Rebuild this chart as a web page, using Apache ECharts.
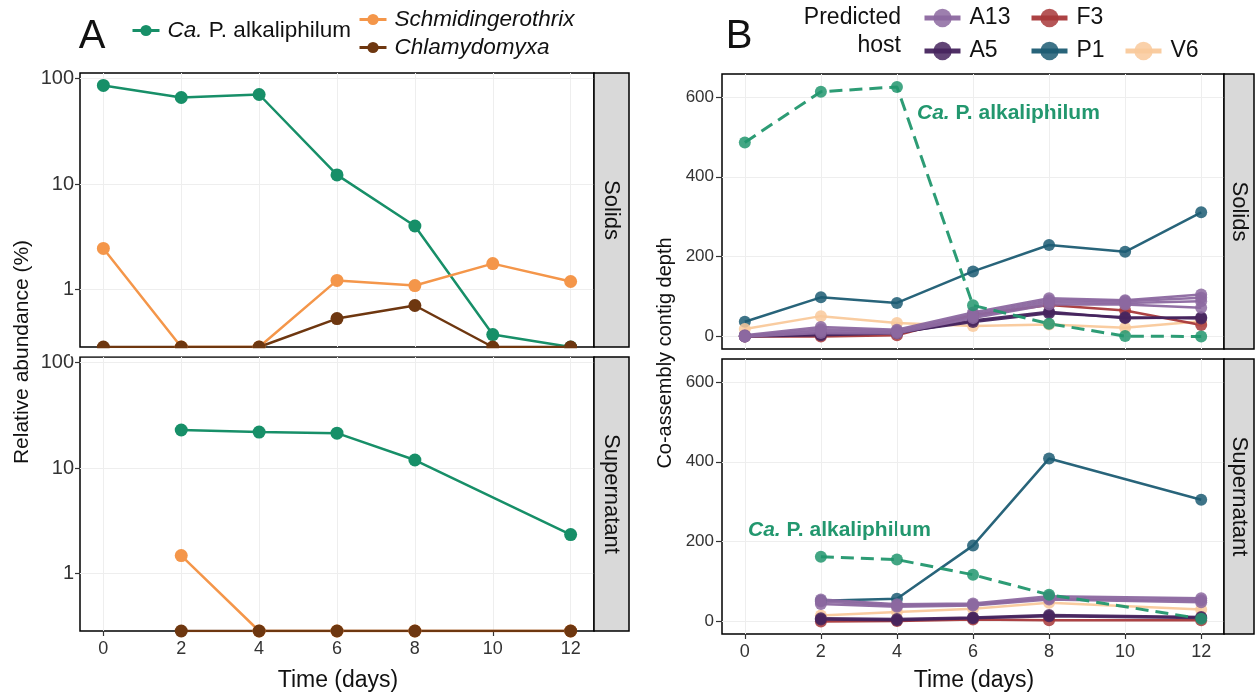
<!DOCTYPE html>
<html><head><meta charset="utf-8">
<script src="https://cdn.jsdelivr.net/npm/echarts@6/dist/echarts.min.js"></script>
<style>html,body{margin:0;padding:0;background:#fff}#c{width:1255px;height:695px}</style>
</head><body><div id="c"></div>
<script>
// ---------- data ----------
const days = [0, 2, 4, 6, 8, 10, 12];
const xTicks = [0, 2, 4, 6, 8, 10, 12];
const yTicksA = [1, 10, 100];
const yTicksB = [0, 200, 400, 600];

// Panel A: relative abundance (%), null = not sampled, 0 = not detected
const caP_solids    = [85.9, 66, 70.5, 12.2, 4.0, 0.374, 0];
const schmid_solids = [2.45, 0, 0, 1.22, 1.09, 1.76, 1.19];
const chlamy_solids = [0, 0, 0, 0.53, 0.705, 0, 0];
const caP_super     = [null, 22.9, 21.9, 21.4, 11.9, null, 2.34];
const schmid_super  = [null, 1.48, 0, 0, 0, null, 0];
const chlamy_super  = [null, 0, 0, 0, 0, null, 0];

// Panel B: co-assembly contig depth
const bCaP_solids   = [486, 613, 625, 78, 32, 1, 0];
const bP1_solids    = [37, 98, 84, 163, 229, 212, 311];
const bV6_solids    = [19, 51, 34, 26, 30, 22, 38];
const bF3_solids    = [0, 0, 3, 54, 79, 65, 29];
const bA5a_solids   = [0, 3, 8, 40, 62, 46, 48];
const bA5b_solids   = [2, 6, 10, 36, 58, 48, 45];
const bA13a_solids  = [3, 24, 17, 60, 96, 91, 105];
const bA13b_solids  = [1, 18, 14, 55, 91, 88, 97];
const bA13c_solids  = [0, 13, 11, 50, 86, 84, 88];
const bA13d_solids  = [0, 9, 8, 46, 80, 80, 72];

const bCaP_super    = [null, 162, 155, 117, 67, null, 7];
const bP1_super     = [null, 52, 57, 190, 408, null, 305];
const bV6_super     = [null, 15, 24, 32, 47, null, 30];
const bF3_super     = [null, 0, 1, 5, 3, null, 3];
const bA5a_super    = [null, 5, 3, 8, 13, null, 9];
const bA5b_super    = [null, 8, 6, 10, 16, null, 11];
const bA13a_super   = [null, 55, 43, 45, 63, null, 58];
const bA13b_super   = [null, 50, 40, 42, 58, null, 53];
const bA13c_super   = [null, 44, 37, 40, 55, null, 48];

// ---------- helpers ----------
const LOG_MIN = Math.pow(10, -0.545);
const LOG_MAX = Math.pow(10, 2.052);
function pairs(vals, zeroTo) {
  const out = [];
  days.forEach((d, i) => {
    const v = vals[i];
    if (v === null || v === undefined) return;
    out.push([d, (v === 0 && zeroTo !== undefined) ? zeroTo : v]);
  });
  return out;
}
const FONT = 'Liberation Sans, Arial, sans-serif';
const TXT = '#333';

const C = {
  caP: '#178f68', schmid: '#f4964a', chlamy: '#6e3710',
  A13: '#8c68a0', A5: '#46245e', F3: '#a8383a', P1: '#1c5c73', V6: '#f9c99b', caPB: '#22976e'
};

function lineA(name, vals, color, idx) {
  return {
    type: 'line', name, xAxisIndex: idx, yAxisIndex: idx,
    data: pairs(vals, LOG_MIN), symbol: 'circle', symbolSize: 13,
    lineStyle: { color, width: 2.5 }, itemStyle: { color },
    emphasis: { disabled: true }, animation: false
  };
}
function lineB(name, vals, color, idx, dashed) {
  return {
    type: 'line', name, xAxisIndex: idx, yAxisIndex: idx,
    data: pairs(vals), symbol: 'circle', symbolSize: 12,
    lineStyle: { color, width: dashed ? 3 : 2.5, type: dashed ? [13, 7] : 'solid', opacity: 0.95 },
    itemStyle: { color, opacity: 0.85 },
    emphasis: { disabled: true }, animation: false
  };
}

function mkX(gridIndex, show) {
  return {
    type: 'value', gridIndex, min: -0.6, max: 12.6, splitNumber: 7,
    axisLine: { show: false, onZero: false },
    axisTick: { show: show, customValues: xTicks, length: 5, lineStyle: { color: TXT, width: 1.2 } },
    axisLabel: { show: show, customValues: xTicks, fontSize: 18, color: TXT, fontFamily: FONT, margin: 9 },
    splitLine: { show: true, lineStyle: { color: '#eeeeee', width: 1 } }
  };
}
function mkYA(gridIndex) {
  return {
    type: 'log', logBase: 10, gridIndex, min: LOG_MIN, max: LOG_MAX,
    axisLine: { show: false, onZero: false },
    axisTick: { show: true, customValues: yTicksA, length: 5, lineStyle: { color: TXT, width: 1.2 } },
    axisLabel: { customValues: yTicksA, fontSize: 20, color: TXT, fontFamily: FONT, margin: 6,
                 formatter: v => String(Math.round(v)) },
    splitLine: { show: true, lineStyle: { color: '#eeeeee', width: 1 } }
  };
}
function mkYB(gridIndex) {
  return {
    type: 'value', gridIndex, min: -31.3, max: 657.3, splitNumber: 4,
    axisLine: { show: false, onZero: false },
    axisTick: { show: true, customValues: yTicksB, length: 6, lineStyle: { color: TXT, width: 1.2 } },
    axisLabel: { customValues: yTicksB, fontSize: 17, color: TXT, fontFamily: FONT, margin: 8 },
    splitLine: { show: true, lineStyle: { color: '#eeeeee', width: 1 } }
  };
}

const gridStyle = { show: true, borderColor: '#000', borderWidth: 1.5, backgroundColor: 'transparent' };
const grids = [
  Object.assign({ left: 80, top: 73, width: 514, height: 274 }, gridStyle),
  Object.assign({ left: 80, top: 357, width: 514, height: 274 }, gridStyle),
  Object.assign({ left: 722, top: 74, width: 502, height: 275 }, gridStyle),
  Object.assign({ left: 722, top: 359, width: 502, height: 275 }, gridStyle)
];

const series = [
  lineA('Ca. P. alkaliphilum', caP_solids, C.caP, 0),
  lineA('Schmidingerothrix', schmid_solids, C.schmid, 0),
  lineA('Chlamydomyxa', chlamy_solids, C.chlamy, 0),
  lineA('Ca. P. alkaliphilum', caP_super, C.caP, 1),
  lineA('Schmidingerothrix', schmid_super, C.schmid, 1),
  lineA('Chlamydomyxa', chlamy_super, C.chlamy, 1),

  lineB('P1', bP1_solids, C.P1, 2),
  lineB('V6', bV6_solids, C.V6, 2),
  lineB('F3', bF3_solids, C.F3, 2),
  lineB('A5', bA5a_solids, C.A5, 2),
  lineB('A5', bA5b_solids, C.A5, 2),
  lineB('A13', bA13a_solids, C.A13, 2),
  lineB('A13', bA13b_solids, C.A13, 2),
  lineB('A13', bA13c_solids, C.A13, 2),
  lineB('A13', bA13d_solids, C.A13, 2),
  lineB('Ca. P. alkaliphilum (contig)', bCaP_solids, C.caPB, 2, true),

  lineB('P1', bP1_super, C.P1, 3),
  lineB('V6', bV6_super, C.V6, 3),
  lineB('F3', bF3_super, C.F3, 3),
  lineB('A5', bA5a_super, C.A5, 3),
  lineB('A5', bA5b_super, C.A5, 3),
  lineB('A13', bA13a_super, C.A13, 3),
  lineB('A13', bA13b_super, C.A13, 3),
  lineB('A13', bA13c_super, C.A13, 3),
  lineB('Ca. P. alkaliphilum (contig)', bCaP_super, C.caPB, 3, true)
];

const LEGF = 22.5;
const legText = { fontSize: LEGF, color: '#111', fontFamily: FONT, padding: [0, 0, 0, 3],
  rich: { i: { fontSize: LEGF, fontStyle: 'italic', color: '#111', fontFamily: FONT } } };
function legA(data, left, top, gap) {
  return { data, left, top, orient: 'vertical', padding: 0, itemGap: gap, itemWidth: 27, itemHeight: 14,
    textStyle: legText, selectedMode: false, lineStyle: { width: 3 },
    formatter: n => n === 'Ca. P. alkaliphilum' ? '{i|Ca.} P. alkaliphilum' : '{i|' + n + '}' };
}
function legB(data, left, top) {
  return { data, left, top, orient: 'vertical', padding: 0, itemGap: 10, itemWidth: 36, itemHeight: 23,
    textStyle: { fontSize: 23, color: '#111', fontFamily: FONT, padding: [0, 0, 0, 4] }, selectedMode: false,
    lineStyle: { width: 5 } };
}

function txt(text, x, y, opts) {
  return Object.assign({ type: 'text', x, y, silent: true,
    style: Object.assign({ text, fontSize: 20, fontFamily: FONT, fill: '#111', align: 'center', verticalAlign: 'middle' }, opts || {}) });
}
function strip(x, y, w, h, label) {
  return [
    { type: 'rect', shape: { x, y, width: w, height: h }, style: { fill: '#d9d9d9', stroke: '#000', lineWidth: 1.5 }, silent: true, z: 5 },
    Object.assign(txt(label, x + w / 2, y + h / 2, { fontSize: 22 }), { rotation: -Math.PI / 2, z: 6 })
  ];
}
const boldRich = { i: { fontStyle: 'italic', fontWeight: 'bold', fontSize: 21, fill: C.caPB, fontFamily: FONT } };

const graphic = [].concat(
  strip(594, 73, 35, 274, 'Solids'),
  strip(594, 357, 35, 274, 'Supernatant'),
  strip(1224, 74, 30, 275, 'Solids'),
  strip(1224, 359, 30, 275, 'Supernatant'),
  [
    { type: 'rect', shape: { x: 70, y: 348.3, width: 530, height: 8 }, style: { fill: '#fff' }, silent: true, z: 4 },
    txt('A', 92, 37, { fontSize: 40 }),
    txt('B', 739, 37, { fontSize: 40 }),
    Object.assign(txt('Relative abundance (%)', 22, 352, { fontSize: 21 }), { rotation: Math.PI / 2 }),
    Object.assign(txt('Co-assembly contig depth', 665, 353, { fontSize: 20 }), { rotation: Math.PI / 2 }),
    txt('Time (days)', 338, 681, { fontSize: 23 }),
    txt('Time (days)', 974, 681, { fontSize: 23 }),
    txt('Predicted', 901, 18, { align: 'right', fontSize: 23 }),
    txt('host', 901, 46, { align: 'right', fontSize: 23 }),
    txt('{i|Ca.} P. alkaliphilum', 917, 113, { align: 'left', fill: C.caPB, fontWeight: 'bold', fontSize: 21, rich: boldRich }),
    txt('{i|Ca.} P. alkaliphilum', 748, 530, { align: 'left', fill: C.caPB, fontWeight: 'bold', fontSize: 21, rich: boldRich })
  ]
);

const chart = echarts.init(document.getElementById('c'), null, { renderer: 'canvas' });
chart.setOption({
  animation: false,
  backgroundColor: '#fff',
  textStyle: { fontFamily: FONT },
  grid: grids,
  xAxis: [mkX(0, false), mkX(1, true), mkX(2, false), mkX(3, true)],
  yAxis: [mkYA(0), mkYA(1), mkYB(2), mkYB(3)],
  legend: [
    legA(['Ca. P. alkaliphilum'], 131, 19, 5),
    legA(['Schmidingerothrix', 'Chlamydomyxa'], 358, 8, 5),
    legB(['A13', 'A5'], 922, 6.5),
    legB(['F3', 'P1'], 1029, 6.5),
    legB(['V6'], 1123, 39.5)
  ],
  series,
  graphic
});
</script></body></html>
